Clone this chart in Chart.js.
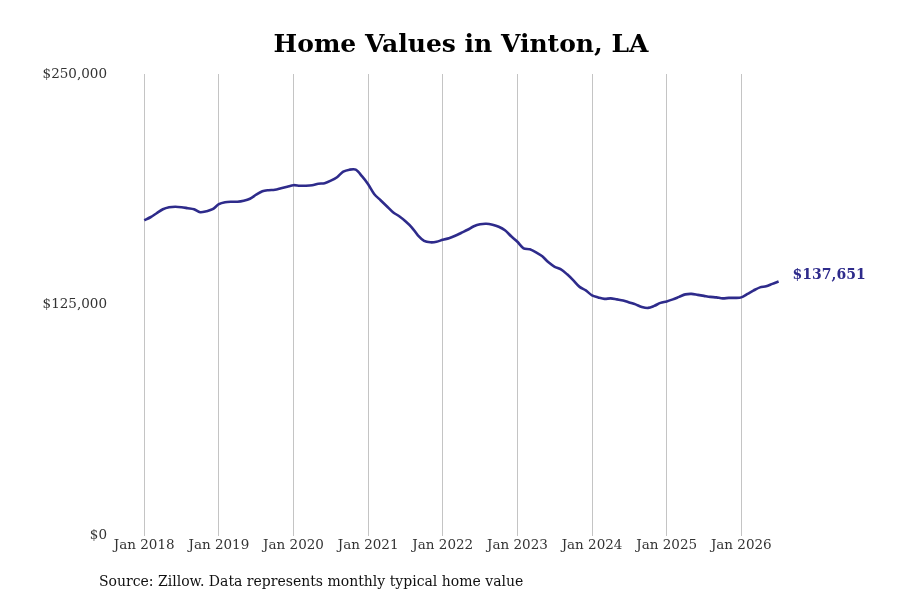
<!DOCTYPE html>
<html>
<head>
<meta charset="utf-8">
<title>Home Values in Vinton, LA</title>
<script src="https://cdn.jsdelivr.net/npm/chart.js@4.4.1/dist/chart.umd.min.js"></script>
<style>
  html, body { margin: 0; padding: 0; background: #fff; }
  #wrap { width: 900px; height: 600px; position: relative; }
</style>
</head>
<body>
<div id="wrap"><canvas id="homeValues" width="900" height="600"></canvas></div>
<script>
// monthly typical home value, Jan of each year onward
const values2018 = [170824, 172451, 174620, 176790, 177874, 178146, 177874, 177332, 176790, 175163, 175705, 176790];
const values2019 = [179501, 180586, 180857, 180857, 181399, 182484, 184653, 186519, 187094, 187365, 188178, 188992];
const values2020 = [189805, 189534, 189534, 189805, 190618, 190890, 192245, 194143, 197126, 198210, 198210, 194685];
const values2021 = [190347, 184924, 181671, 178417, 175163, 172994, 170282, 167028, 162690, 159707, 158894, 159165];
const values2022 = [160250, 161063, 162419, 164046, 165673, 167571, 168655, 168926, 168384, 167300, 165402, 162148];
const values2023 = [159165, 155640, 155098, 153471, 151302, 148048, 145608, 144252, 141540, 138287, 134762, 132863];
const values2024 = [130152, 129067, 128254, 128525, 127983, 127440, 126356, 125271, 123915, 123373, 124458, 126085];
const values2025 = [126898, 127983, 129339, 130694, 130966, 130423, 129881, 129339, 129067, 128525, 128796, 128796];
const values2026 = [129067, 130966, 132863, 134490, 135033, 136389, 137651];

const startYear = 2018;
const yearTicks = [0, 12, 24, 36, 48, 60, 72, 84, 96];   // months since Jan 2018
const yTicks = [0, 125000, 250000];
const sourceText = 'Source: Zillow. Data represents monthly typical home value';

const lineColor = '#2e2b8b';
const serif = "'DejaVu Serif', serif";

const allValues = [].concat(values2018, values2019, values2020, values2021, values2022,
    values2023, values2024, values2025, values2026);
const points = allValues.map((v, i) => ({ x: i, y: v }));

const fmtMoney = v => '$' + v.toLocaleString('en-US');

const extraText = {
    id: 'extraText',
    afterDraw(chart) {
        const ctx = chart.ctx;
        const meta = chart.getDatasetMeta(0);
        const last = meta.data[meta.data.length - 1];
        ctx.save();
        ctx.font = 'bold 14px ' + serif;
        ctx.fillStyle = lineColor;
        ctx.textAlign = 'left';
        ctx.textBaseline = 'middle';
        ctx.fillText(fmtMoney(allValues[allValues.length - 1]), last.x + 14, last.y - 6);

        ctx.font = '14px ' + serif;
        ctx.fillStyle = '#111';
        ctx.fillText(sourceText, 99, 582);
        ctx.restore();
    }
};

const ctx = document.getElementById('homeValues').getContext('2d');
new Chart(ctx, {
    type: 'line',
    data: {
        datasets: [{
            data: points,
            borderColor: lineColor,
            borderWidth: 2.6,
            pointRadius: 0,
            tension: 0.3,
            fill: false
        }]
    },
    options: {
        responsive: false,
        animation: false,
        layout: { padding: { left: 42, right: 20, top: 0, bottom: 44 } },
        plugins: {
            legend: { display: false },
            tooltip: { enabled: false },
            title: {
                display: true,
                text: 'Home Values in Vinton, LA',
                color: '#000',
                font: { family: serif, size: 25, weight: 'bold' },
                padding: { top: 30, bottom: 14 }
            }
        },
        scales: {
            x: {
                type: 'linear',
                min: -4.7,
                max: 118.3,
                afterBuildTicks: scale => { scale.ticks = yearTicks.map(v => ({ value: v })); },
                ticks: {
                    color: '#333',
                    font: { family: serif, size: 13.5 },
                    padding: 2,
                    maxRotation: 0,
                    autoSkip: false,
                    callback: v => 'Jan ' + (startYear + v / 12)
                },
                grid: { color: '#c4c4c4', lineWidth: 1, drawTicks: false },
                border: { display: false }
            },
            y: {
                min: 0,
                max: 250000,
                afterBuildTicks: scale => { scale.ticks = yTicks.map(v => ({ value: v })); },
                afterFit: scale => { scale.width = 73; },
                ticks: {
                    color: '#333',
                    font: { family: serif, size: 13.5 },
                    padding: 8,
                    callback: v => fmtMoney(v)
                },
                grid: { display: false, drawTicks: false },
                border: { display: false }
            }
        }
    },
    plugins: [extraText]
});
</script>
</body>
</html>
